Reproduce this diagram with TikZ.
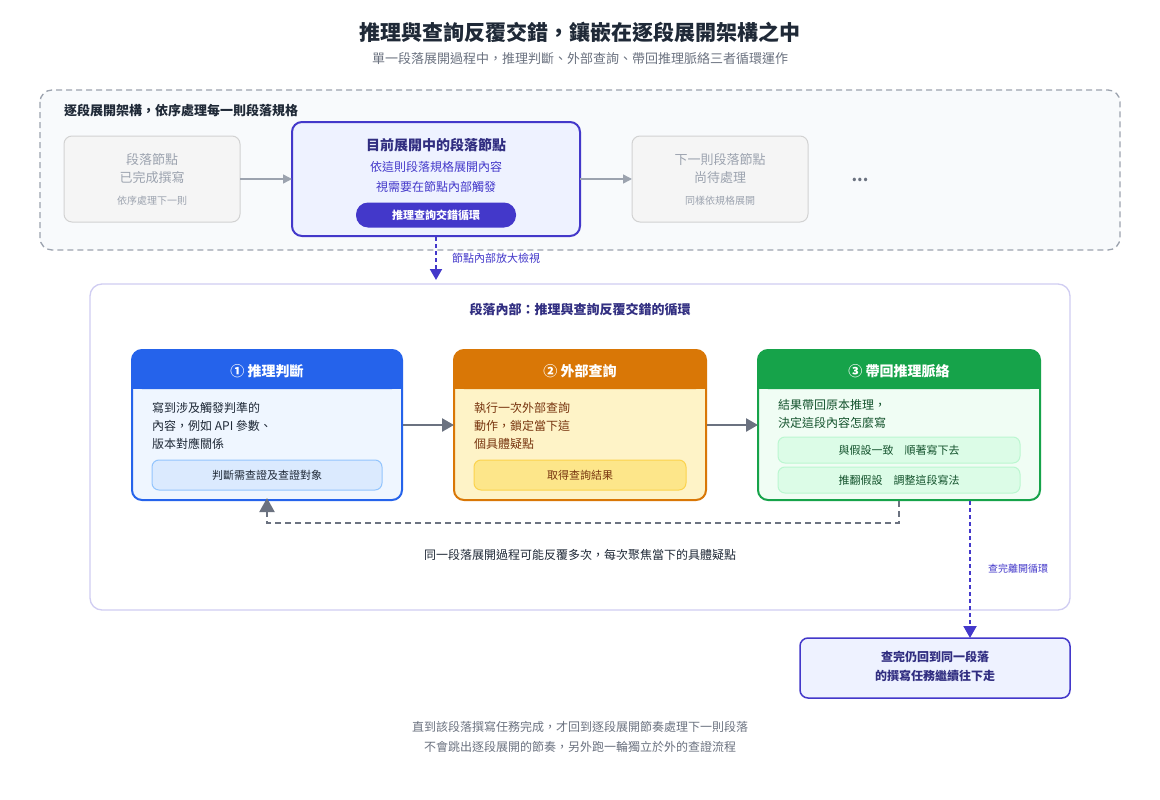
\documentclass[tikz,border=0pt]{standalone}
\usepackage{fontspec}
\setmainfont{Noto Sans CJK TC}
\usetikzlibrary{arrows.meta}
\definecolor{ind}{HTML}{4338CA}
\definecolor{indd}{HTML}{312E81}
\definecolor{gtx}{HTML}{9CA3AF}
\definecolor{garr}{HTML}{6B7280}
\definecolor{dark}{HTML}{1F2937}
\definecolor{lav}{HTML}{EEF2FF}
\definecolor{slate}{HTML}{F8FAFC}
\definecolor{cb}{HTML}{2563EB}\definecolor{co}{HTML}{D97706}\definecolor{cg}{HTML}{16A34A}
\definecolor{bb}{HTML}{EFF6FF}\definecolor{ob}{HTML}{FEF3C7}\definecolor{gb}{HTML}{F0FDF4}
\definecolor{br}{HTML}{78350F}\definecolor{dg}{HTML}{14532D}
\definecolor{by}{HTML}{DBEAFE}\definecolor{bys}{HTML}{93C5FD}
\definecolor{oy}{HTML}{FDE68A}\definecolor{oys}{HTML}{FCD34D}
\definecolor{gy}{HTML}{DCFCE7}\definecolor{gys}{HTML}{BBF7D0}
\tikzset{
 x=1pt,y=-1pt,
 fs/.style={font=\fontsize{#1}{#1}\selectfont},
 t/.style={inner sep=0pt,anchor=center},
 ghost/.style={draw=gray!35,fill=gray!8,rounded corners=8,line width=1},
 garrow/.style={draw=gtx,line width=1.5,-{Triangle[length=9,width=9]}},
 carrow/.style={draw=garr,line width=2.5,-{Triangle[length=12,width=13]}},
 sub/.style={rounded corners=7,line width=1},
}
\begin{document}
\begin{tikzpicture}
\useasboundingbox (0,0) rectangle (1160,800);
\fill[white] (0,0) rectangle (1160,800);
\node[t,font=\bfseries\fontsize{21}{21}\selectfont,text=dark] (title) at (580,32) {推理與查詢反覆交錯，鑲嵌在逐段展開架構之中};
\node[t,fs=13,text=garr] (subt) at (580,59) {單一段落展開過程中，推理判斷、外部查詢、帶回推理脈絡三者循環運作};
% outer
\draw[draw=gtx,dash pattern=on 6pt off 4pt,line width=1.3,fill=slate,rounded corners=12] (40,90) rectangle (1120,250);
\node[t,anchor=west,font=\bfseries\fontsize{13}{13}\selectfont,text=dark] (olab) at (64,111) {逐段展開架構，依序處理每一則段落規格};
\draw[ghost] (64,136) rectangle (240,222);
\node[t,fs=13,text=gtx] (a1) at (152,160) {段落節點};
\node[t,fs=13,text=gtx] (a2) at (152,178) {已完成撰寫};
\node[t,fs=10,text=gtx] (a3) at (152,201) {依序處理下一則};
\coordinate (b1r) at (240,179);
\draw[draw=ind,fill=lav,line width=2,rounded corners=10] (292,122) rectangle (580,236);
\coordinate (b2l) at (292,179);\coordinate (b2r) at (580,179);
\node[t,font=\bfseries\fontsize{14}{14}\selectfont,text=indd] (c1) at (436,145) {目前展開中的段落節點};
\node[t,fs=12,text=ind] (c2) at (436,167) {依這則段落規格展開內容};
\node[t,fs=12,text=ind] (c3) at (436,187) {視需要在節點內部觸發};
\node[fill=ind,rounded corners=12,minimum width=160,minimum height=25,inner sep=0,text=white,font=\bfseries\fontsize{11}{11}\selectfont] (pill) at (436,215) {推理查詢交錯循環};
\draw[garrow] (b1r) -- (b2l);
\draw[ghost] (632,136) rectangle (808,222);
\coordinate (b3l) at (632,179);
\draw[garrow] (b2r) -- (b3l);
\node[t,fs=13,text=gtx] (d1) at (720,160) {下一則段落節點};
\node[t,fs=13,text=gtx] (d2) at (720,178) {尚待處理};
\node[t,fs=10,text=gtx] (d3) at (720,201) {同樣依規格展開};
\node[t,font=\bfseries\fontsize{16}{16}\selectfont,text=garr] (dots) at (860,180) {...};
% zoom arrow
\coordinate (z1) at (436,237);\coordinate (z2) at (436,280);
\draw[ind,line width=2,dash pattern=on 4pt off 3pt,-{Triangle[length=11,width=12]}] (z1) -- (z2);
\node[t,anchor=west,fs=11,text=ind] (zl) at (452,258) {節點內部放大檢視};
% inner box
\draw[draw=ind!25,fill=white,line width=1.3,rounded corners=12] (90,284) rectangle (1070,610);
\node[t,font=\bfseries\fontsize{13}{13}\selectfont,text=indd] (ilab) at (580,309) {段落內部：推理與查詢反覆交錯的循環};
% cards
\fill[bb,rounded corners=10] (132,350) rectangle (402,500);
\fill[cb,rounded corners=10] (132,350) rectangle (402,389);\fill[cb] (132,375) rectangle (402,389);
\draw[cb,line width=2,rounded corners=10] (132,350) rectangle (402,500);
\fill[ob,rounded corners=10] (454,350) rectangle (706,500);
\fill[co,rounded corners=10] (454,350) rectangle (706,389);\fill[co] (454,375) rectangle (706,389);
\draw[co,line width=2,rounded corners=10] (454,350) rectangle (706,500);
\fill[gb,rounded corners=10] (758,350) rectangle (1040,500);
\fill[cg,rounded corners=10] (758,350) rectangle (1040,389);\fill[cg] (758,375) rectangle (1040,389);
\draw[cg,line width=2,rounded corners=10] (758,350) rectangle (1040,500);
\node[t,font=\bfseries\fontsize{14}{14}\selectfont,text=white] (h1) at (267,371) {① 推理判斷};
\node[t,font=\bfseries\fontsize{14}{14}\selectfont,text=white] (h2) at (580,371) {② 外部查詢};
\node[t,font=\bfseries\fontsize{14}{14}\selectfont,text=white] (h3) at (899,371) {③ 帶回推理脈絡};
\node[t,anchor=west,fs=12,text=dark] (p11) at (152,408) {寫到涉及觸發判準的};
\node[t,anchor=west,fs=12,text=dark] (p12) at (152,426) {內容，例如 API 參數、};
\node[t,anchor=west,fs=12,text=dark] (p13) at (152,444) {版本對應關係};
\node[fill=by,draw=bys,sub,minimum width=230,minimum height=30,inner sep=0,fs=11,text=dark] (s1) at (267,475) {判斷需查證及查證對象};
\node[t,anchor=west,fs=12,text=br] (p21) at (474,408) {執行一次外部查詢};
\node[t,anchor=west,fs=12,text=br] (p22) at (474,426) {動作，鎖定當下這};
\node[t,anchor=west,fs=12,text=br] (p23) at (474,444) {個具體疑點};
\node[fill=oy,draw=oys,sub,minimum width=212,minimum height=30,inner sep=0,fs=11,text=br] (s2) at (580,475) {取得查詢結果};
\node[t,anchor=west,fs=12,text=dg] (p31) at (778,405) {結果帶回原本推理，};
\node[t,anchor=west,fs=12,text=dg] (p32) at (778,423) {決定這段內容怎麼寫};
\node[fill=gy,draw=gys,sub,minimum width=242,minimum height=26,inner sep=0,fs=11,text=dg] (s3) at (899,450) {與假設一致\quad 順著寫下去};
\node[fill=gy,draw=gys,sub,minimum width=242,minimum height=26,inner sep=0,fs=11,text=dg] (s4) at (899,480) {推翻假設\quad 調整這段寫法};
\coordinate (k1r) at (403,425);\coordinate (k2l) at (454,425);
\coordinate (k2r) at (707,425);\coordinate (k3l) at (758,425);
\draw[carrow] (k1r) -- (k2l);
\draw[carrow] (k2r) -- (k3l);
\coordinate (lb1) at (899,501);\coordinate (lb2) at (267,498);
\draw[garr,line width=2,dash pattern=on 6pt off 4pt,-{Triangle[length=14,width=15]}] (lb1) -- (899,523) -- (267,523) -- (lb2);
\node[t,fs=12,text=dark] (loopt) at (580,555) {同一段落展開過程可能反覆多次，每次聚焦當下的具體疑點};
% exit
\coordinate (e1) at (970,501);
\draw[draw=ind,fill=lav,line width=1.5,rounded corners=8] (800,638) rectangle (1070,698);
\coordinate (e2) at (970,638);
\draw[ind,line width=2,dash pattern=on 4pt off 3pt,-{Triangle[length=12,width=13]}] (e1) -- (e2);
\node[t,anchor=west,fs=10,text=ind] (el) at (988,569) {查完離開循環};
\node[t,font=\bfseries\fontsize{12}{12}\selectfont,text=indd] (f1) at (935,657) {查完仍回到同一段落};
\node[t,font=\bfseries\fontsize{12}{12}\selectfont,text=indd] (f2) at (935,676) {的撰寫任務繼續往下走};
\node[t,fs=12,text=garr] (ft1) at (580,727) {直到該段落撰寫任務完成，才回到逐段展開節奏處理下一則段落};
\node[t,fs=12,text=garr] (ft2) at (580,747) {不會跳出逐段展開的節奏，另外跑一輪獨立於外的查證流程};
\end{tikzpicture}
\end{document}
